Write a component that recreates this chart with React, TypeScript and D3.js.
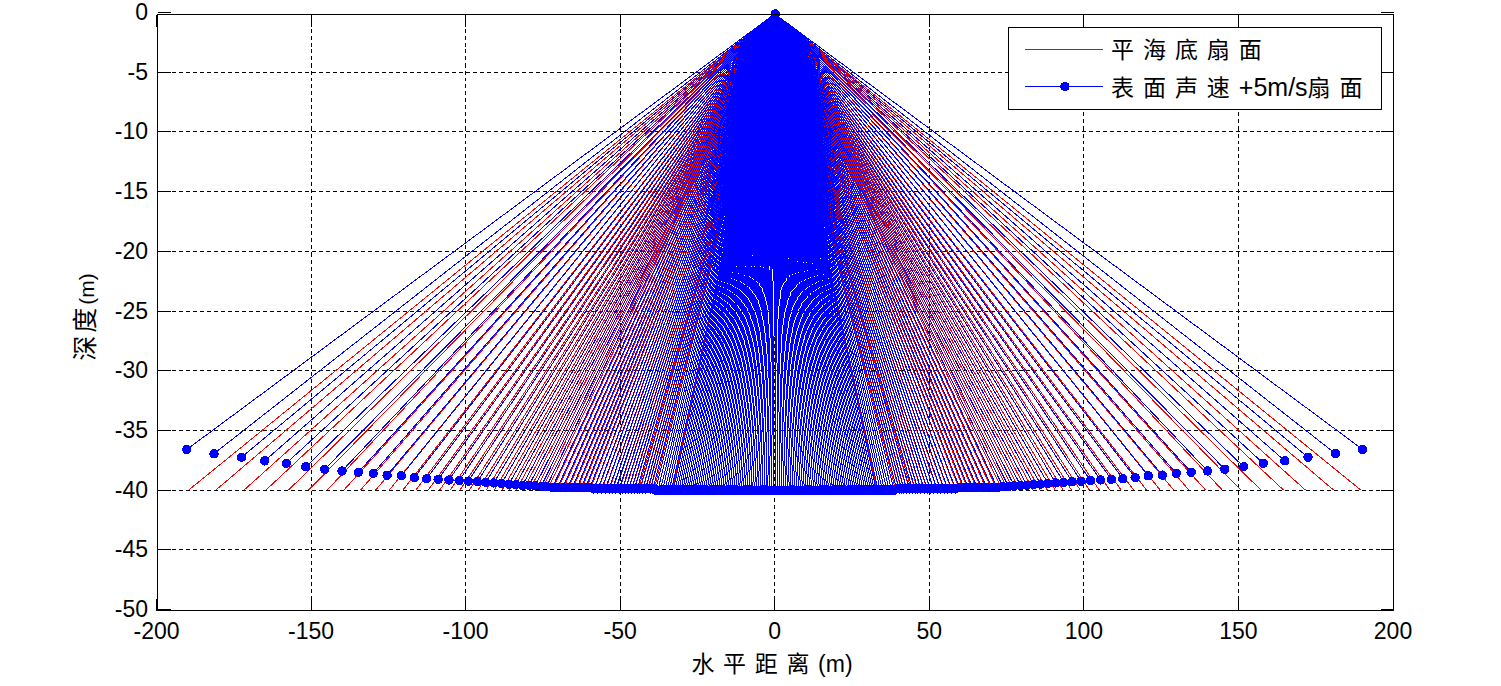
import React from "react";
import * as d3 from "d3";

const xTicks = [-200, -150, -100, -50, 0, 50, 100, 150, 200];
const yTicks = [0, -5, -10, -15, -20, -25, -30, -35, -40, -45, -50];

// Half fan (starboard side); the port side mirrors it.
const blueX = [
  190.2,181.4,172.5,165,158,151.7,145.6,140,134.7,129.9,125.4,120.8,116.6,112.6,108.9,105.4,102.1,99.1,
  96.2,93.5,90.9,88.4,86,83.8,81.6,79.5,77.5,75.6,73.8,
  72,70.3,68.6,67,65.5,64,62.6,61.2,59.8,
  58.5,57.2,56,54.8,53.6,52.5,51.4,50.3,49.3,48.3,47.3,46.3,45.4,44.5,43.6,42.7,41.8,41,40.2,39.4,
  38.6,37.8,37,36.3,35.5,34.8,34.1,33.4,32.8,
  32.2,31.6,31,30.35,29.75,29.15,28.5,27.9,27.3,26.7,
  26.1,25.5,24.85,24.25,23.65,23,22.4,21.8,21.2,20.6,
  20,19.35,18.75,18.15,17.5,16.9,16.3,15.7,15.1,14.5,
  13.85,13.25,12.65,12,11.4,10.8,10.2,9.6,9,8.35,
  7.75,7.15,6.5,5.9,5.3,4.7,4.1,3.5,2.85,2.25,
  1.65,1,0.35,
];
const blueDepth = [
  36.6,36.95,37.25,37.55,37.75,38.05,38.25,38.4,38.5,38.6,38.75,38.8,38.95,39.05,39.1,39.15,39.2,39.25,
  39.3,39.35,39.4,39.45,39.5,39.55,39.6,39.6,39.65,39.7,39.7,
  39.8,39.8,39.8,39.8,39.8,39.8,39.8,39.8,39.8,
  39.9,39.9,39.9,39.9,39.9,39.9,39.9,39.9,39.9,39.9,39.9,39.9,39.9,39.9,39.9,39.9,39.9,39.9,39.9,39.9,
  40,40,40,40,40,40,40,40,40,
  40,40,40,40,40,40,40,40,40,40,
  40,40,40,40,40,40,40,40,40,40,
  40,40,40,40,40,40,40,40,40,40,
  40,40,40,40,40,40,40,40,40,40,
  40,40,40,40,40,40,40,40,40,40,
  40,40,40,
];
const redX = [
  189.6,180.8,171.7,164.6,157.3,150.8,144.8,139.4,134,129.1,124.7,120.3,116.1,112.1,108.4,105,101.8,98.8,
  96,93.3,90.7,88.2,85.8,83.6,81.4,79.3,77.3,75.4,73.6,
  72,70.3,68.6,67,65.5,64,62.6,61.2,59.8,
  58.5,57.2,56,54.8,53.6,52.5,51.4,50.3,49.3,48.3,47.3,46.3,45.4,44.2,43.6,42.7,41.8,41,40.2,39.1,
  38.6,37.8,37,36.3,35.5,34.8,34.1,33.1,32.8,
  32.2,31.6,31,30.35,29.75,29.15,28.5,27.9,27.3,26.7,
  26.1,25.5,24.85,24.25,23.65,23,22.4,21.8,21.2,20.6,
  20,19.35,18.75,18.15,17.5,16.9,16.3,15.7,15.1,14.5,
  13.85,13.25,12.65,12,11.4,10.8,10.2,9.6,9,8.35,
  7.75,7.15,6.5,5.9,5.3,4.7,4.1,3.5,2.85,2.25,
  1.65,1,0.35,
];
const flatDepth = 40;
const originDepth = 0.12;

const legendRed = "平 海 底 扇 面";
const legendBlue = ["表 面 声 速 ", "+5m/s", "扇 面"];

const W = 1501, H = 686;
const LEFT = 157.5, RIGHT = 1393.5, TOP = 14.5, BOTTOM = 610.5;
const MARKER_R = 4.7;
const x = d3.scaleLinear().domain([-200, 200]).range([156.5, 1393]);
const y = d3.scaleLinear().domain([-50, 0]).range([609.5, 12.5]);
const snap = (v: number) => Math.floor(v) + 0.5;

const latin = "'Liberation Sans', Arial, sans-serif";
const cjk = "'Noto Sans CJK SC', sans-serif";
const BLUE = "#0000ff", RED = "#ff0000";

export default function App() {
  const signs = [-1, 1];
  const ox = x(0), oy = y(-originDepth);
  return (
    <svg width={W} height={H} viewBox={`0 0 ${W} ${H}`}
      style={{ position: "fixed", left: 0, top: 0, background: "#fff", display: "block" }}>
      <g stroke="#000" strokeWidth={1} strokeDasharray="4 3" shapeRendering="crispEdges">
        {xTicks.slice(1, -1).map((t) => (
          <line key={t} x1={snap(x(t))} x2={snap(x(t))} y1={TOP} y2={BOTTOM} />
        ))}
        {yTicks.slice(1, -1).map((t) => (
          <line key={t} x1={LEFT} x2={RIGHT} y1={snap(y(t))} y2={snap(y(t))} />
        ))}
      </g>
      <g stroke="#000" strokeWidth={1} shapeRendering="crispEdges">
        {xTicks.map((t) => (
          <g key={t}>
            <line x1={snap(x(t))} x2={snap(x(t))} y1={BOTTOM} y2={BOTTOM - 12} />
            <line x1={snap(x(t))} x2={snap(x(t))} y1={TOP} y2={TOP + 12} />
          </g>
        ))}
        {yTicks.map((t) => (
          <g key={t}>
            <line x1={LEFT} x2={LEFT + 13} y1={snap(y(t))} y2={snap(y(t))} />
            <line x1={RIGHT} x2={RIGHT - 13} y1={snap(y(t))} y2={snap(y(t))} />
          </g>
        ))}
      </g>
      <g stroke={RED} strokeWidth={1} shapeRendering="crispEdges">
        {signs.flatMap((s) =>
          redX.map((v, i) => (
            <line key={`${s}${i}`} x1={ox} y1={oy} x2={x(s * v)} y2={y(-flatDepth)} />
          ))
        )}
      </g>
      <g stroke={BLUE} strokeWidth={1} shapeRendering="crispEdges">
        {signs.flatMap((s) =>
          blueX.map((v, i) => (
            <line key={`${s}${i}`} x1={ox} y1={oy} x2={x(s * v)} y2={y(-blueDepth[i])} />
          ))
        )}
      </g>
      <g fill={BLUE} shapeRendering="crispEdges">
        <circle cx={ox + 0.5} cy={oy} r={MARKER_R} />
        {signs.flatMap((s) =>
          blueX.map((v, i) => (
            <circle key={`${s}${i}`} cx={x(s * v)} cy={y(-blueDepth[i])} r={MARKER_R} />
          ))
        )}
      </g>
      <rect x={LEFT} y={TOP} width={RIGHT - LEFT} height={BOTTOM - TOP} fill="none" stroke="#000" shapeRendering="crispEdges" />

      <g fontFamily={latin} fontSize={23} fill="#000">
        {xTicks.map((t) => (
          <text key={t} x={x(t)} y={639} textAnchor="middle">{t}</text>
        ))}
        {yTicks.map((t) => (
          <text key={t} x={148} y={y(t) + 7.5} textAnchor="end">{t}</text>
        ))}
      </g>

      <text x={772} y={672} textAnchor="middle" fontSize={23} fontFamily={cjk} wordSpacing={3.5} fill="#000">
        水 平 距 离 <tspan fontFamily={latin} fontSize={23}>(m)</tspan>
      </text>
      <text transform="translate(94,317) rotate(-90)" textAnchor="middle" fontSize={25} letterSpacing={3} fontFamily={cjk} fill="#000">
        深度<tspan fontFamily={latin} fontSize={21} letterSpacing={0}>(m)</tspan>
      </text>

      <g>
        <rect x={1008.5} y={27.5} width={373} height={82} fill="#fff" stroke="#000" shapeRendering="crispEdges" />
        <line x1={1025} x2={1103} y1={49.5} y2={49.5} stroke={RED} shapeRendering="crispEdges" />
        <line x1={1025} x2={1103} y1={86.5} y2={86.5} stroke={BLUE} shapeRendering="crispEdges" />
        <circle cx={1065} cy={86.5} r={MARKER_R} fill={BLUE} shapeRendering="crispEdges" />
        <text x={1111} y={58} fontSize={23} fontFamily={cjk} wordSpacing={3.8} fill="#000">{legendRed}</text>
        <text x={1111} y={96} fontSize={23} fontFamily={cjk} wordSpacing={3.8} fill="#000">
          {legendBlue[0]}
          <tspan fontFamily={latin} fontSize={25}>{legendBlue[1]}</tspan>
          <tspan>{legendBlue[2]}</tspan>
        </text>
      </g>
    </svg>
  );
}
